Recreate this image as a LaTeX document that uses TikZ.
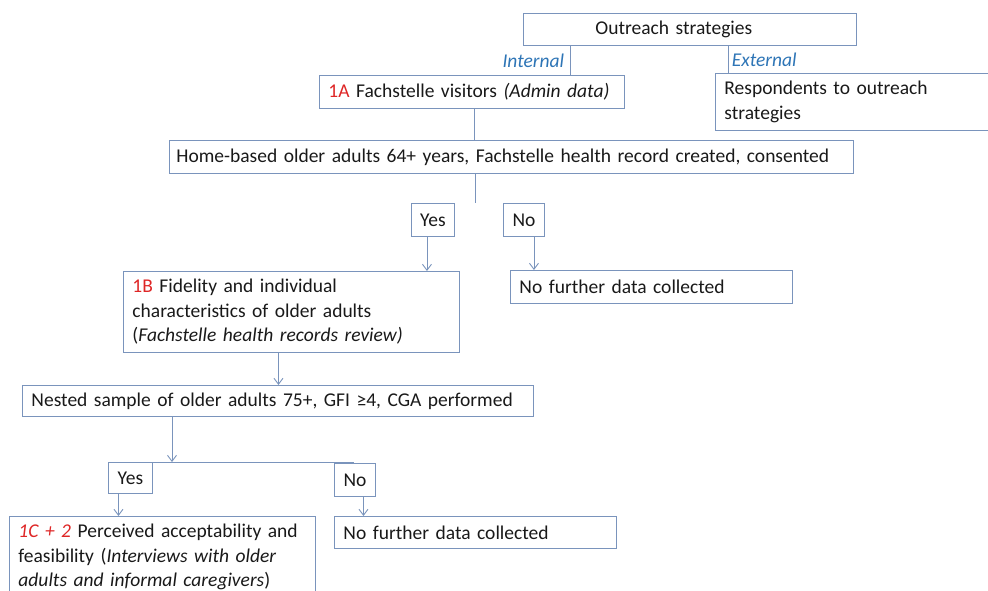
\documentclass[tikz,border=0pt]{standalone}
\usepackage{fontspec}
\setmainfont{Carlito}
\usetikzlibrary{arrows.meta}
\definecolor{boxc}{RGB}{122,148,188}
\definecolor{labc}{RGB}{46,117,182}
\definecolor{redc}{RGB}{222,38,38}
\definecolor{txtc}{RGB}{25,25,25}
\newcommand{\rd}[1]{\textcolor{redc}{#1}}
\begin{document}
\begin{tikzpicture}[x=1pt,y=-1pt,
  every node/.style={text=txtc, font=\fontsize{19.5pt}{24.5pt}\selectfont},
  box/.style={draw=boxc, line width=0.9pt, rectangle, inner xsep=9pt, inner ysep=0pt,
    align=left, anchor=north west},
  tag/.style={draw=boxc, line width=0.9pt, rectangle, inner sep=0pt, anchor=north west},
  link/.style={draw=boxc, line width=0.9pt},
  arr/.style={link, -{Straight Barb[length=6pt,width=9pt]}},
  branch/.style={text=labc, font=\fontsize{19.5pt}{24.5pt}\selectfont\itshape}]
\clip (0,0) rectangle (988,591);

% boxes
\node[box, text width=315pt, minimum height=32pt] (out) at (523,13)
  {\hspace*{63pt}Outreach strategies};
\node[box, text width=287pt, minimum height=33pt] (a1) at (319,75)
  {\rd{1A} Fachstelle visitors \textit{(Admin data)}};
\node[box, text width=267pt, minimum height=57pt] (resp) at (715,73)
  {Respondents to outreach\\strategies};
\node[box, inner xsep=7pt, text width=670pt, minimum height=33pt] (home) at (169,140)
  {Home-based older adults 64+ years, Fachstelle health record created, consented};
\node[tag, minimum width=43pt, minimum height=33pt] (yes1) at (411,203) {Yes};
\node[tag, minimum width=41pt, minimum height=33pt] (no1) at (503,203) {No};
\node[box, text width=318pt, minimum height=81pt] (b1) at (123,271)
  {\rd{1B} Fidelity and individual\\characteristics of older adults\\(\textit{Fachstelle health records review)}};
\node[box, text width=264pt, minimum height=33pt] (nf1) at (510,270)
  {No further data collected};
\node[box, text width=493pt, minimum height=31pt] (nest) at (22,385)
  {Nested sample of older adults 75+, GFI ≥4, CGA performed};
\node[tag, minimum width=44pt, minimum height=31pt] (yes2) at (108,462) {Yes};
\node[tag, minimum width=41pt, minimum height=33pt] (no2) at (334,463) {No};
\node[box, text width=288pt, minimum height=81pt] (c1) at (9,516)
  {\rd{\textit{1C + 2}} Perceived acceptability and\\feasibility (\textit{Interviews with older}\\\textit{adults and informal caregivers})};
\node[box, text width=264pt, minimum height=32pt] (nf2) at (334,516)
  {No further data collected};

% outreach branches
\draw[link] ([xshift=-54pt]a1.north east |- out.south)
  -- node[branch, left, xshift=-3pt] (intl) {Internal} ([xshift=-54pt]a1.north east);
\draw[link] ([xshift=13pt]resp.north west |- out.south)
  -- node[branch, right, xshift=0pt] (extl) {External} ([xshift=13pt]resp.north west);

% main flow
\draw[link] ([xshift=155pt]a1.south west) -- ([xshift=155pt]a1.south west |- home.north);
\coordinate (split1) at ([xshift=306pt]home.south west |- yes1.north);
\draw[link] ([xshift=306pt]home.south west) -- (split1);
\draw[arr] ([xshift=-6pt]yes1.south) -- ([xshift=-6pt]yes1.south |- b1.north);
\draw[arr] ([xshift=10pt]no1.south) -- ([xshift=10pt]no1.south |- nf1.north);
\draw[arr] ([xshift=-13pt]b1.south) -- ([xshift=-13pt]b1.south |- nest.north);
\draw[arr] ([xshift=150pt]nest.south west) -- ([xshift=150pt]nest.south west |- yes2.north);
\draw[link] (yes2.north east) -- ([xshift=20pt]no2.north west |- yes2.north);
\draw[arr] ([xshift=-12pt]yes2.south) -- ([xshift=-12pt]yes2.south |- c1.north);
\draw[arr] ([xshift=8.5pt]no2.south) -- ([xshift=8.5pt]no2.south |- nf2.north);
\end{tikzpicture}
\end{document}
